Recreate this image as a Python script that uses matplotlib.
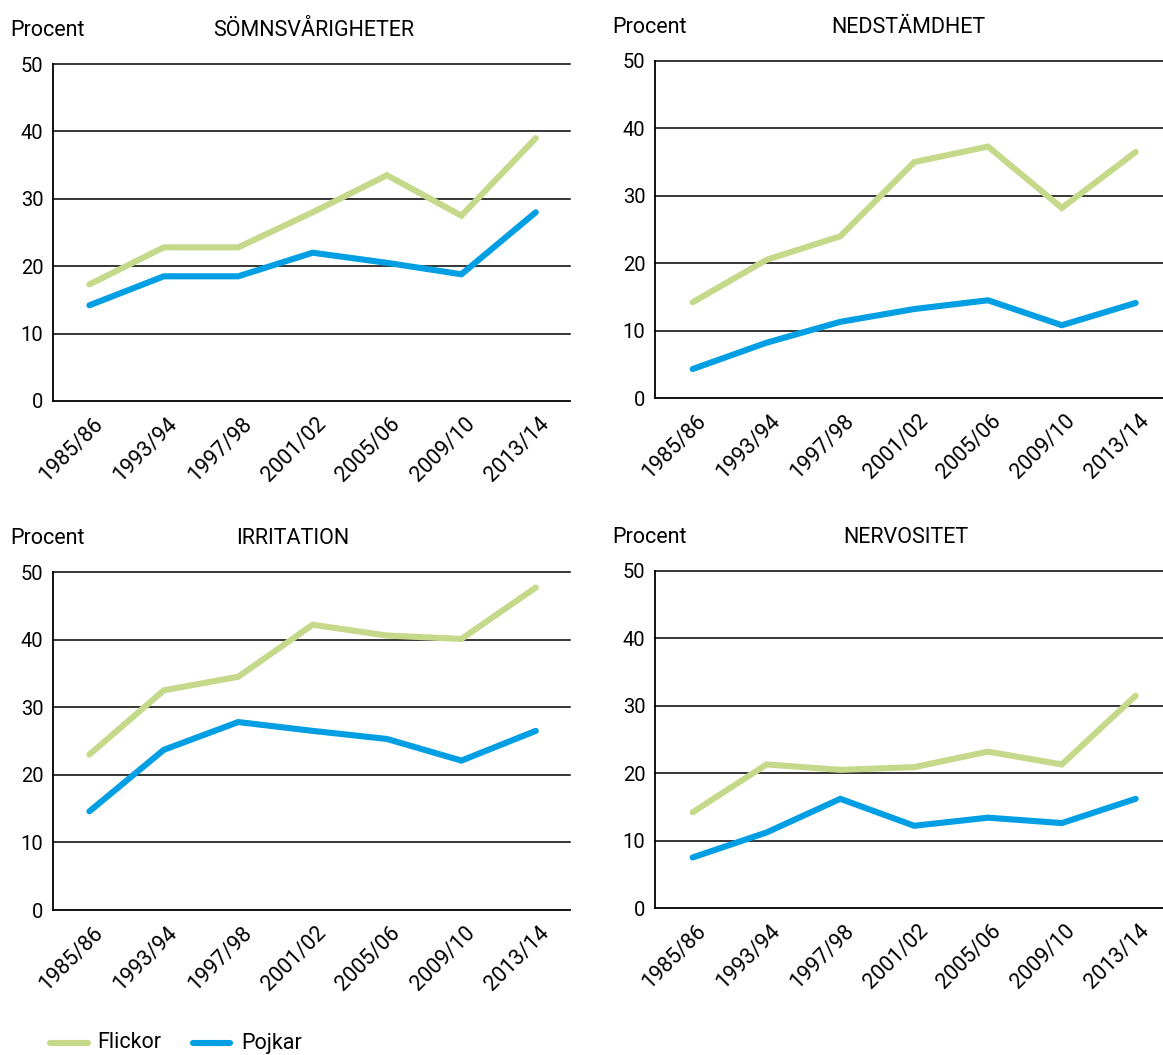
import matplotlib
matplotlib.use("Agg")
import matplotlib.pyplot as plt
from matplotlib.lines import Line2D
from matplotlib.transforms import ScaledTranslation

plt.rcParams['font.family'] = ['Roboto', 'DejaVu Sans']

years = ["1985/86", "1993/94", "1997/98", "2001/02", "2005/06", "2009/10", "2013/14"]
titles = ["SÖMNSVÅRIGHETER", "NEDSTÄMDHET", "IRRITATION", "NERVOSITET"]

somn_flickor = [17.3, 22.8, 22.8, 28.0, 33.5, 27.5, 39.0]
somn_pojkar = [14.2, 18.5, 18.5, 22.0, 20.5, 18.8, 28.0]
ned_flickor = [14.2, 20.5, 24.0, 35.0, 37.3, 28.2, 36.5]
ned_pojkar = [4.3, 8.2, 11.3, 13.2, 14.5, 10.8, 14.1]
irr_flickor = [23.0, 32.5, 34.5, 42.2, 40.6, 40.1, 47.7]
irr_pojkar = [14.6, 23.7, 27.8, 26.5, 25.3, 22.1, 26.5]
nerv_flickor = [14.2, 21.3, 20.5, 20.9, 23.2, 21.3, 31.5]
nerv_pojkar = [7.5, 11.2, 16.2, 12.2, 13.4, 12.6, 16.2]

flickor = [somn_flickor, ned_flickor, irr_flickor, nerv_flickor]
pojkar = [somn_pojkar, ned_pojkar, irr_pojkar, nerv_pojkar]

GREEN = "#c5d98a"
BLUE = "#009fe3"

W, H = 1163, 1055
fig = plt.figure(figsize=(W / 100, H / 100), dpi=100)

# (left, right, top, bottom) pixel positions; xlim; title center offset
boxes = [
    (53, 570, 64, 401, (-0.49, 6.46), 2),
    (655, 1163, 61, 398, (-0.51, 6.37), -1),
    (53, 570, 572, 910, (-0.49, 6.46), -19),
    (655, 1163, 571, 908, (-0.51, 6.37), -3),
]

x = list(range(len(years)))
for i, (l, r, t, b, xl, toff) in enumerate(boxes):
    ax = fig.add_axes([l / W, 1 - b / H, (r - l) / W, (b - t) / H])
    ax.set_xlim(*xl)
    ax.set_ylim(0, 50)
    for yv in [10, 20, 30, 40, 50]:
        ax.axhline(yv, color="black", lw=1.1, zorder=1, clip_on=False)
    ax.axhline(0, color="black", lw=1.3, zorder=1, clip_on=False)
    for s in ["top", "right", "bottom"]:
        ax.spines[s].set_visible(False)
    ax.spines["left"].set_linewidth(1.3)
    ax.plot(x, flickor[i], color=GREEN, lw=4.4, solid_capstyle="round",
            solid_joinstyle="miter", zorder=3)
    ax.plot(x, pojkar[i], color=BLUE, lw=4.4, solid_capstyle="round",
            solid_joinstyle="miter", zorder=3)
    ax.set_yticks([0, 10, 20, 30, 40, 50])
    ax.set_yticklabels(["0", "10", "20", "30", "40", "50"], fontsize=14.5)
    ax.set_xticks(x)
    ax.set_xticklabels(years, rotation=45, ha="right", va="top",
                       rotation_mode="anchor", fontsize=15.5)
    ax.tick_params(axis="both", length=0)
    ax.tick_params(axis="y", pad=7)
    ax.tick_params(axis="x", pad=9)
    off = ScaledTranslation(3 / 100, 0, fig.dpi_scale_trans)
    for lab in ax.get_xticklabels():
        lab.set_transform(lab.get_transform() + off)
    # labels
    fig.text((l - 43) / W, 1 - (t - 28) / H, "Procent", fontsize=15.5,
             va="baseline", ha="left")
    fig.text(((l + r) / 2 + toff) / W, 1 - (t - 28) / H,
             titles[i], fontsize=15.5, va="baseline", ha="center")

# legend
ly = 1 - 1043 / H
fig.lines.append(Line2D([50 / W, 88 / W], [ly, ly], color=GREEN, lw=4.4,
                        solid_capstyle="round", transform=fig.transFigure))
fig.text(97 / W, ly, "Flickor", fontsize=15.5, va="center", ha="left")
fig.lines.append(Line2D([193 / W, 230 / W], [ly, ly], color=BLUE, lw=4.4,
                        solid_capstyle="round", transform=fig.transFigure))
fig.text(241 / W, ly, "Pojkar", fontsize=15.5, va="center", ha="left")

fig.savefig("out.png", dpi=100)
